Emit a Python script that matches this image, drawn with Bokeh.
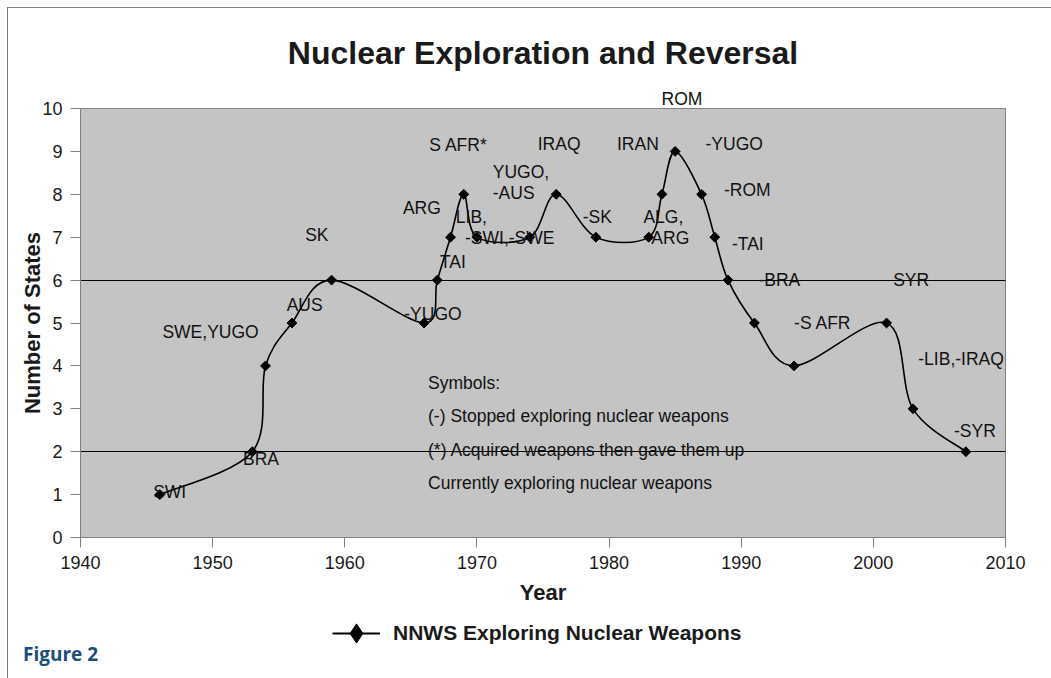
import numpy as np
from bokeh.plotting import figure
from bokeh.layouts import column
from bokeh.models import (ColumnDataSource, LabelSet, Label, Legend, LegendItem, Range1d,
                          FixedTicker, Title, Div)
from bokeh.core.properties import value
from bokeh.embed import file_html
from bokeh.resources import INLINE

# ---------------- data ----------------
years = [1946, 1953, 1954, 1956, 1959, 1966, 1967, 1968, 1969, 1970, 1974, 1976,
         1979, 1983, 1984, 1985, 1987, 1988, 1989, 1991, 1994, 2001, 2003, 2007]
states = [1, 2, 4, 5, 6, 5, 6, 7, 8, 7, 7, 8,
          7, 7, 8, 9, 8, 7, 6, 5, 4, 5, 3, 2]

# labels of the changes (the 1985 "ROM" label sits above the plot area)
event_text = ["SWI", "BRA", "SWE,YUGO", "AUS", "SK", "-YUGO", "TAI", "ARG", "S AFR*",
              "LIB,", "-SWI,-SWE", "YUGO,", "-AUS", "IRAQ", "-SK", "ALG,", "ARG", "IRAN",
              "-YUGO", "-ROM", "-TAI", "-BRA", "-S AFR", "SYR", "-LIB,-IRAQ", "-SYR"]
top_label = "ROM"

notes = ["Symbols:",
         "(-) Stopped exploring nuclear weapons",
         "(*) Acquired weapons then gave them up",
         "Currently exploring nuclear weapons"]

x_ticks = [1940, 1950, 1960, 1970, 1980, 1990, 2000, 2010]
y_ticks = [0, 1, 2, 3, 4, 5, 6, 7, 8, 9, 10]
ref_lines = [2, 6]
series_name = "NNWS Exploring Nuclear Weapons"
caption = "Figure 2"

# ---------------- label placement (layout) ----------------
event_x = [1945.5, 1952.3, 1946.2, 1955.6, 1957.0, 1964.5, 1967.2, 1964.4, 1966.4,
           1968.4, 1969.1, 1971.2, 1971.2, 1974.6, 1978.0, 1982.6, 1983.2, 1980.6,
           1987.3, 1988.7, 1989.3, 1991.3, 1994.0, 2001.5, 2003.4, 2006.1]
event_y = [1.05, 1.84, 4.80, 5.41, 7.06, 5.22, 6.43, 7.69, 9.16,
           7.46, 6.97, 8.53, 8.02, 9.18, 7.48, 7.48, 6.99, 9.18,
           9.18, 8.11, 6.85, 6.01, 4.99, 6.01, 4.15, 2.49]
note_x = 1966.3
note_y = [3.59, 2.84, 2.03, 1.26]

FONT = "Liberation Sans"

# ---------------- smoothed curve control points (Catmull-Rom from the data) ----------------
xs = np.array(years, dtype=float)
ys = np.array(states, dtype=float)
n = len(xs)
i = np.arange(n - 1)
prev_i = np.maximum(i - 1, 0)
next_i = np.minimum(i + 2, n - 1)
cx0 = xs[i] + (xs[i + 1] - xs[prev_i]) / 6.0
cy0 = ys[i] + (ys[i + 1] - ys[prev_i]) / 6.0
cx1 = xs[i + 1] - (xs[next_i] - xs[i]) / 6.0
cy1 = ys[i + 1] - (ys[next_i] - ys[i]) / 6.0

p = figure(width=1043, height=604,
           x_range=Range1d(1940, 2010), y_range=Range1d(0, 10),
           output_backend="svg", toolbar_location=None,
           min_border_left=72, min_border_right=46, min_border_top=100, min_border_bottom=75,
           background_fill_color="#c4c4c4", border_fill_color="white",
           outline_line_color="#808080")

# above panel: "ROM" label nearest the frame, main title outermost
p.add_layout(Title(text=top_label, align="left", offset=581, text_font=FONT,
                   text_font_style="normal", text_font_size="17.5px",
                   text_color="#111111", standoff=0), "above")
p.title.text = "Nuclear Exploration and Reversal"
p.title.align = "center"
p.title.text_font = FONT
p.title.text_font_style = "bold"
p.title.text_font_size = "32px"
p.title.text_color = "#1a1a1a"
p.title.standoff = 32

# axes
for ax in (p.xaxis, p.yaxis):
    ax.axis_line_color = "#808080"
    ax.major_tick_line_color = "#808080"
    ax.minor_tick_line_color = None
    ax.major_tick_in = 0
    ax.major_tick_out = 10
    ax.major_label_text_font = FONT
    ax.major_label_text_font_size = "18px"
    ax.major_label_text_color = "#1a1a1a"
    ax.major_label_standoff = 8
    ax.axis_label_text_font = FONT
    ax.axis_label_text_font_size = "22px"
    ax.axis_label_text_font_style = "bold"
    ax.axis_label_text_color = "#1a1a1a"

p.xaxis.ticker = FixedTicker(ticks=x_ticks)
p.yaxis.ticker = FixedTicker(ticks=y_ticks)
p.xaxis.axis_label = "Year"
p.yaxis.axis_label = "Number of States"
p.xaxis.axis_label_standoff = 8
p.yaxis.axis_label_standoff = -6

p.xgrid.visible = False
p.ygrid.ticker = FixedTicker(ticks=ref_lines)
p.ygrid.grid_line_color = "black"
p.ygrid.grid_line_width = 1

# curve and markers
p.bezier(x0=xs[:-1], y0=ys[:-1], x1=xs[1:], y1=ys[1:],
         cx0=cx0, cy0=cy0, cx1=cx1, cy1=cy1,
         line_color="black", line_width=1.6)
p.scatter(years, states, marker="square", angle=np.pi / 4, size=7, color="black")

# point labels
src = ColumnDataSource(dict(x=event_x, y=event_y, text=event_text))
p.add_layout(LabelSet(x="x", y="y", text="text", source=src,
                      text_font=value(FONT), text_font_size="17.5px",
                      text_baseline="middle", text_align="left", text_color="#111111"))

for t, yy in zip(notes, note_y):
    p.add_layout(Label(x=note_x, y=yy, text=t, text_font=FONT, text_font_size="17.5px",
                       text_baseline="middle", text_align="left", text_color="#111111"))

# ---------------- legend strip below the chart ----------------
p2 = figure(width=1043, height=34, x_range=Range1d(0, 1), y_range=Range1d(0, 1),
            output_backend="svg", toolbar_location=None,
            x_axis_location=None, y_axis_location=None,
            min_border_left=0, min_border_right=0, min_border_top=0, min_border_bottom=0,
            background_fill_color="white", border_fill_color="white",
            outline_line_color=None)
p2.grid.visible = False
leg_line = p2.line(years, states, line_color="black", line_width=2)
leg_mark = p2.scatter(years, states, marker="diamond", size=11, color="black")

legend = Legend(items=[LegendItem(label=series_name, renderers=[leg_line, leg_mark])],
                location=(252, -12), orientation="horizontal",
                glyph_width=48, glyph_height=50, label_standoff=13,
                padding=0, margin=0, border_line_alpha=0, background_fill_alpha=0,
                label_text_font=FONT, label_text_font_size="21px",
                label_text_font_style="bold", label_text_color="#1a1a1a")
p2.add_layout(legend, "center")

note_div = Div(text=caption, width=200, height=32, margin=(0, 0, 0, 15),
               styles={"font-family": "'Open Sans', sans-serif", "font-weight": "bold",
                       "font-size": "19px", "color": "#1c4e78", "line-height": "16px"})

page = column(p, p2, note_div, margin=(7, 0, 0, 7),
              styles={"border-left": "1px solid #7a7a7a", "border-top": "1px solid #7a7a7a"})

open("out.html", "w").write(file_html(page, INLINE))
